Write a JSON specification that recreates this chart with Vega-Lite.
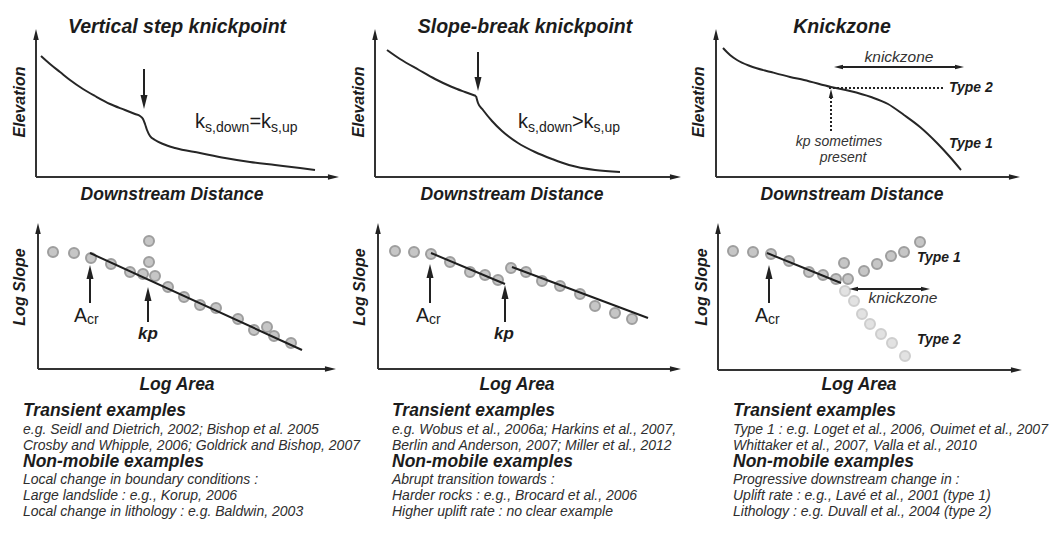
{
  "$schema": "https://vega.github.io/schema/vega-lite/v6.json",
  "width": 1055,
  "height": 534,
  "autosize": {"type": "fit", "contains": "padding"},
  "padding": 0,
  "background": "white",
  "config": {"view": {"stroke": null}},
  "datasets": {
    "curves": [
      {"id": "c1", "o": 1, "x": 41, "y": 56}, {"id": "c1", "o": 2, "x": 50, "y": 64}, {"id": "c1", "o": 3, "x": 60, "y": 72}, {"id": "c1", "o": 4, "x": 70, "y": 80}, {"id": "c1", "o": 5, "x": 83, "y": 89}, {"id": "c1", "o": 6, "x": 95, "y": 96}, {"id": "c1", "o": 7, "x": 110, "y": 104}, {"id": "c1", "o": 8, "x": 125, "y": 110}, {"id": "c1", "o": 9, "x": 135, "y": 114}, {"id": "c1", "o": 10, "x": 140, "y": 116}, {"id": "c1", "o": 11, "x": 143, "y": 119}, {"id": "c1", "o": 12, "x": 145, "y": 124}, {"id": "c1", "o": 13, "x": 147, "y": 130}, {"id": "c1", "o": 14, "x": 150, "y": 136}, {"id": "c1", "o": 15, "x": 155, "y": 140}, {"id": "c1", "o": 16, "x": 163, "y": 144}, {"id": "c1", "o": 17, "x": 175, "y": 148}, {"id": "c1", "o": 18, "x": 200, "y": 153}, {"id": "c1", "o": 19, "x": 225, "y": 158}, {"id": "c1", "o": 20, "x": 250, "y": 162}, {"id": "c1", "o": 21, "x": 275, "y": 165}, {"id": "c1", "o": 22, "x": 300, "y": 168}, {"id": "c1", "o": 23, "x": 315, "y": 170},
      {"id": "c2a", "o": 1, "x": 387, "y": 50}, {"id": "c2a", "o": 2, "x": 400, "y": 59}, {"id": "c2a", "o": 3, "x": 419, "y": 70}, {"id": "c2a", "o": 4, "x": 435, "y": 79}, {"id": "c2a", "o": 5, "x": 452, "y": 87}, {"id": "c2a", "o": 6, "x": 465, "y": 92}, {"id": "c2a", "o": 7, "x": 476, "y": 96},
      {"id": "c2b", "o": 1, "x": 476, "y": 96}, {"id": "c2b", "o": 2, "x": 478, "y": 103}, {"id": "c2b", "o": 3, "x": 483, "y": 110}, {"id": "c2b", "o": 4, "x": 492, "y": 121}, {"id": "c2b", "o": 5, "x": 502, "y": 131}, {"id": "c2b", "o": 6, "x": 518, "y": 143}, {"id": "c2b", "o": 7, "x": 535, "y": 152}, {"id": "c2b", "o": 8, "x": 552, "y": 159}, {"id": "c2b", "o": 9, "x": 569, "y": 165}, {"id": "c2b", "o": 10, "x": 595, "y": 170}, {"id": "c2b", "o": 11, "x": 620, "y": 172},
      {"id": "c3", "o": 1, "x": 723, "y": 48}, {"id": "c3", "o": 2, "x": 730, "y": 55}, {"id": "c3", "o": 3, "x": 737, "y": 60}, {"id": "c3", "o": 4, "x": 750, "y": 66}, {"id": "c3", "o": 5, "x": 771, "y": 72}, {"id": "c3", "o": 6, "x": 790, "y": 77}, {"id": "c3", "o": 7, "x": 804, "y": 80}, {"id": "c3", "o": 8, "x": 831, "y": 87}, {"id": "c3", "o": 9, "x": 850, "y": 91}, {"id": "c3", "o": 10, "x": 871, "y": 97}, {"id": "c3", "o": 11, "x": 888, "y": 104}, {"id": "c3", "o": 12, "x": 904, "y": 115}, {"id": "c3", "o": 13, "x": 920, "y": 127}, {"id": "c3", "o": 14, "x": 937, "y": 143}, {"id": "c3", "o": 15, "x": 950, "y": 157}, {"id": "c3", "o": 16, "x": 961, "y": 170}
    ],
    "rules": [
      {"k": "axis", "x": 36, "y": 177, "x2": 36, "y2": 36}, {"k": "axis", "x": 36, "y": 177, "x2": 333, "y2": 177},
      {"k": "axis", "x": 375, "y": 177, "x2": 375, "y2": 36}, {"k": "axis", "x": 375, "y": 177, "x2": 675, "y2": 177},
      {"k": "axis", "x": 716, "y": 177, "x2": 716, "y2": 36}, {"k": "axis", "x": 716, "y": 177, "x2": 1014, "y2": 177},
      {"k": "axis", "x": 38, "y": 369, "x2": 38, "y2": 230}, {"k": "axis", "x": 38, "y": 369, "x2": 330, "y2": 369},
      {"k": "axis", "x": 378, "y": 369, "x2": 378, "y2": 230}, {"k": "axis", "x": 378, "y": 369, "x2": 675, "y2": 369},
      {"k": "axis", "x": 718, "y": 370, "x2": 718, "y2": 230}, {"k": "axis", "x": 718, "y": 370, "x2": 1016, "y2": 370},
      {"k": "arrow", "x": 144, "y": 69, "x2": 144, "y2": 102},
      {"k": "arrow", "x": 478, "y": 52, "x2": 478, "y2": 84},
      {"k": "arrow", "x": 838, "y": 67, "x2": 960, "y2": 67},
      {"k": "arrow", "x": 90, "y": 303, "x2": 90, "y2": 272},
      {"k": "arrow", "x": 148, "y": 322, "x2": 148, "y2": 293},
      {"k": "arrow", "x": 430, "y": 303, "x2": 430, "y2": 271},
      {"k": "arrow", "x": 505, "y": 322, "x2": 505, "y2": 291},
      {"k": "arrow", "x": 769, "y": 303, "x2": 769, "y2": 272},
      {"k": "arrow", "x": 853, "y": 289, "x2": 926, "y2": 289},
      {"k": "dot", "x": 831, "y": 131, "x2": 831, "y2": 95},
      {"k": "dot", "x": 829, "y": 88, "x2": 943, "y2": 88},
      {"k": "fit", "x": 90, "y": 253, "x2": 302, "y2": 350},
      {"k": "fit", "x": 431, "y": 253, "x2": 505, "y2": 284},
      {"k": "fit", "x": 512, "y": 267, "x2": 648, "y2": 318},
      {"k": "fit", "x": 767, "y": 253, "x2": 841, "y2": 283}
    ],
    "heads": [
      {"hk": "axis", "dir": "up", "x": 36, "y": 29}, {"hk": "axis", "dir": "right", "x": 339, "y": 177},
      {"hk": "axis", "dir": "up", "x": 375, "y": 29}, {"hk": "axis", "dir": "right", "x": 681, "y": 177},
      {"hk": "axis", "dir": "up", "x": 716, "y": 29}, {"hk": "axis", "dir": "right", "x": 1020, "y": 177},
      {"hk": "axis", "dir": "up", "x": 38, "y": 223}, {"hk": "axis", "dir": "right", "x": 336, "y": 369},
      {"hk": "axis", "dir": "up", "x": 378, "y": 223}, {"hk": "axis", "dir": "right", "x": 681, "y": 369},
      {"hk": "axis", "dir": "up", "x": 718, "y": 223}, {"hk": "axis", "dir": "right", "x": 1022, "y": 370},
      {"hk": "arrow", "dir": "down", "x": 144, "y": 109},
      {"hk": "arrow", "dir": "down", "x": 478, "y": 91},
      {"hk": "small", "dir": "left", "x": 834, "y": 67}, {"hk": "small", "dir": "right", "x": 964, "y": 67},
      {"hk": "small", "dir": "up", "x": 831, "y": 89},
      {"hk": "arrow", "dir": "up", "x": 90, "y": 265},
      {"hk": "arrow", "dir": "up", "x": 148, "y": 287},
      {"hk": "arrow", "dir": "up", "x": 430, "y": 264},
      {"hk": "arrow", "dir": "up", "x": 505, "y": 285},
      {"hk": "arrow", "dir": "up", "x": 769, "y": 265},
      {"hk": "small", "dir": "left", "x": 849, "y": 289}, {"hk": "small", "dir": "right", "x": 930, "y": 289}
    ],
    "pts": [
      {"g": "a", "x": 53, "y": 252}, {"g": "a", "x": 74, "y": 253}, {"g": "a", "x": 91, "y": 258}, {"g": "a", "x": 111, "y": 264}, {"g": "a", "x": 130, "y": 272}, {"g": "a", "x": 143, "y": 274}, {"g": "a", "x": 149, "y": 241}, {"g": "a", "x": 149, "y": 262}, {"g": "a", "x": 155, "y": 276}, {"g": "a", "x": 168, "y": 287}, {"g": "a", "x": 184, "y": 297}, {"g": "a", "x": 200, "y": 305}, {"g": "a", "x": 216, "y": 308}, {"g": "a", "x": 238, "y": 319}, {"g": "a", "x": 254, "y": 330}, {"g": "a", "x": 267, "y": 327}, {"g": "a", "x": 274, "y": 336}, {"g": "a", "x": 291, "y": 343},
      {"g": "a", "x": 395, "y": 251}, {"g": "a", "x": 414, "y": 252}, {"g": "a", "x": 431, "y": 254}, {"g": "a", "x": 450, "y": 262}, {"g": "a", "x": 470, "y": 272}, {"g": "a", "x": 485, "y": 275}, {"g": "a", "x": 498, "y": 280}, {"g": "a", "x": 511, "y": 268}, {"g": "a", "x": 526, "y": 272}, {"g": "a", "x": 542, "y": 281}, {"g": "a", "x": 560, "y": 286}, {"g": "a", "x": 580, "y": 294}, {"g": "a", "x": 595, "y": 306}, {"g": "a", "x": 615, "y": 313}, {"g": "a", "x": 632, "y": 319},
      {"g": "a", "x": 733, "y": 251}, {"g": "a", "x": 753, "y": 252}, {"g": "a", "x": 771, "y": 254}, {"g": "a", "x": 789, "y": 261}, {"g": "a", "x": 809, "y": 272}, {"g": "a", "x": 823, "y": 275}, {"g": "a", "x": 836, "y": 279}, {"g": "a", "x": 844, "y": 263}, {"g": "a", "x": 848, "y": 279}, {"g": "a", "x": 864, "y": 271}, {"g": "a", "x": 877, "y": 264}, {"g": "a", "x": 891, "y": 256}, {"g": "a", "x": 904, "y": 252}, {"g": "a", "x": 920, "y": 242},
      {"g": "b", "x": 845, "y": 291}, {"g": "b", "x": 854, "y": 301}, {"g": "b", "x": 862, "y": 314}, {"g": "b", "x": 870, "y": 324}, {"g": "b", "x": 881, "y": 334}, {"g": "b", "x": 892, "y": 343}, {"g": "b", "x": 905, "y": 356}
    ],
    "txt": [
      {"s": "title", "x": 177, "y": 33, "t": "Vertical step knickpoint"},
      {"s": "title", "x": 525, "y": 33, "t": "Slope-break knickpoint"},
      {"s": "title", "x": 842, "y": 33, "t": "Knickzone"},
      {"s": "hlab", "x": 172, "y": 200, "t": "Downstream Distance"},
      {"s": "hlab", "x": 512, "y": 200, "t": "Downstream Distance"},
      {"s": "hlab", "x": 852, "y": 200, "t": "Downstream Distance"},
      {"s": "hlab", "x": 177, "y": 390, "t": "Log Area"},
      {"s": "hlab", "x": 517, "y": 390, "t": "Log Area"},
      {"s": "hlab", "x": 859, "y": 390, "t": "Log Area"},
      {"s": "vlab", "x": 25, "y": 102, "t": "Elevation"},
      {"s": "vlab", "x": 364, "y": 102, "t": "Elevation"},
      {"s": "vlab", "x": 704, "y": 102, "t": "Elevation"},
      {"s": "vlab", "x": 25, "y": 287, "t": "Log Slope"},
      {"s": "vlab", "x": 365, "y": 287, "t": "Log Slope"},
      {"s": "vlab", "x": 707, "y": 287, "t": "Log Slope"},
      {"s": "kz", "x": 899, "y": 62, "t": "knickzone"},
      {"s": "kz", "x": 903, "y": 303, "t": "knickzone"},
      {"s": "note", "x": 839, "y": 146, "t": "kp sometimes"},
      {"s": "note", "x": 843, "y": 162, "t": "present"},
      {"s": "type", "x": 949, "y": 92, "t": "Type 2"},
      {"s": "type", "x": 949, "y": 148, "t": "Type 1"},
      {"s": "type", "x": 917, "y": 262, "t": "Type 1"},
      {"s": "type", "x": 917, "y": 344, "t": "Type 2"},
      {"s": "kbig", "x": 195, "y": 128, "t": "k"},
      {"s": "kbig", "x": 249.5, "y": 128, "t": "="},
      {"s": "kbig", "x": 261, "y": 128, "t": "k"},
      {"s": "ksub", "x": 205, "y": 132, "t": "s,down"},
      {"s": "ksub", "x": 271, "y": 132, "t": "s,up"},
      {"s": "kbig", "x": 518, "y": 128, "t": "k"},
      {"s": "kbig", "x": 572, "y": 128, "t": ">"},
      {"s": "kbig", "x": 583.5, "y": 128, "t": "k"},
      {"s": "ksub", "x": 528, "y": 132, "t": "s,down"},
      {"s": "ksub", "x": 593.5, "y": 132, "t": "s,up"},
      {"s": "abig", "x": 74, "y": 322, "t": "A"},
      {"s": "abig", "x": 416, "y": 322, "t": "A"},
      {"s": "abig", "x": 755, "y": 322, "t": "A"},
      {"s": "asub", "x": 87, "y": 324, "t": "cr"},
      {"s": "asub", "x": 429, "y": 324, "t": "cr"},
      {"s": "asub", "x": 768, "y": 324, "t": "cr"},
      {"s": "kp", "x": 148, "y": 339, "t": "kp"},
      {"s": "kp", "x": 504, "y": 339, "t": "kp"},
      {"s": "head", "x": 23, "y": 416, "t": "Transient examples"},
      {"s": "line", "x": 23, "y": 434, "t": "e.g. Seidl and Dietrich, 2002; Bishop et al. 2005"},
      {"s": "line", "x": 23, "y": 450, "t": "Crosby and Whipple, 2006; Goldrick and Bishop, 2007"},
      {"s": "head", "x": 23, "y": 467, "t": "Non-mobile examples"},
      {"s": "line", "x": 23, "y": 484, "t": "Local change in boundary conditions :"},
      {"s": "line", "x": 23, "y": 500, "t": "Large landslide : e.g., Korup, 2006"},
      {"s": "line", "x": 23, "y": 516, "t": "Local change in lithology : e.g. Baldwin, 2003"},
      {"s": "head", "x": 392, "y": 416, "t": "Transient examples"},
      {"s": "line", "x": 392, "y": 434, "t": "e.g. Wobus et al., 2006a; Harkins et al., 2007,"},
      {"s": "line", "x": 392, "y": 450, "t": "Berlin and Anderson, 2007; Miller et al., 2012"},
      {"s": "head", "x": 392, "y": 467, "t": "Non-mobile examples"},
      {"s": "line", "x": 392, "y": 484, "t": "Abrupt transition towards :"},
      {"s": "line", "x": 392, "y": 500, "t": "Harder rocks : e.g., Brocard et al., 2006"},
      {"s": "line", "x": 392, "y": 516, "t": "Higher uplift rate : no clear example"},
      {"s": "head", "x": 733, "y": 416, "t": "Transient examples"},
      {"s": "line", "x": 733, "y": 434, "t": "Type 1 : e.g. Loget et al., 2006, Ouimet et al., 2007"},
      {"s": "line", "x": 733, "y": 450, "t": "Whittaker et al., 2007, Valla et al., 2010"},
      {"s": "head", "x": 733, "y": 467, "t": "Non-mobile examples"},
      {"s": "line", "x": 733, "y": 484, "t": "Progressive downstream change in :"},
      {"s": "line", "x": 733, "y": 500, "t": "Uplift rate : e.g., Lavé et al., 2001 (type 1)"},
      {"s": "line", "x": 733, "y": 516, "t": "Lithology : e.g. Duvall et al., 2004 (type 2)"}
    ]
  },
  "encoding": {
    "x": {"field": "x", "type": "quantitative", "scale": {"domain": [0, 1055], "nice": false, "zero": false}, "axis": null},
    "y": {"field": "y", "type": "quantitative", "scale": {"domain": [0, 534], "nice": false, "zero": false, "reverse": true}, "axis": null}
  },
  "layer": [
    {
      "data": {"name": "pts"},
      "mark": {"type": "point", "shape": "circle", "filled": true, "size": 100, "fill": "#c6c6c6", "stroke": "#9e9e9e", "strokeWidth": 2},
      "encoding": {
        "opacity": {"field": "g", "type": "nominal", "scale": {"domain": ["a", "b"], "range": [1, 0.5]}, "legend": null}
      }
    },
    {
      "data": {"name": "curves"},
      "mark": {"type": "line", "interpolate": "monotone", "stroke": "#262626", "strokeWidth": 2},
      "encoding": {
        "detail": {"field": "id", "type": "nominal"},
        "order": {"field": "o", "type": "quantitative"}
      }
    },
    {
      "data": {"name": "rules"},
      "transform": [{"filter": "datum.k == 'axis'"}],
      "mark": {"type": "rule", "stroke": "#333333", "strokeWidth": 2},
      "encoding": {"x2": {"field": "x2"}, "y2": {"field": "y2"}}
    },
    {
      "data": {"name": "rules"},
      "transform": [{"filter": "datum.k == 'arrow'"}],
      "mark": {"type": "rule", "stroke": "#222222", "strokeWidth": 2},
      "encoding": {"x2": {"field": "x2"}, "y2": {"field": "y2"}}
    },
    {
      "data": {"name": "rules"},
      "transform": [{"filter": "datum.k == 'dot'"}],
      "mark": {"type": "rule", "stroke": "#222222", "strokeWidth": 2, "strokeDash": [2, 2]},
      "encoding": {"x2": {"field": "x2"}, "y2": {"field": "y2"}}
    },
    {
      "data": {"name": "rules"},
      "transform": [{"filter": "datum.k == 'fit'"}],
      "mark": {"type": "rule", "stroke": "#1e1e1e", "strokeWidth": 2},
      "encoding": {"x2": {"field": "x2"}, "y2": {"field": "y2"}}
    },
    {
      "data": {"name": "heads"},
      "mark": {"type": "point", "shape": "M0,0L0.6,2.4L-0.6,2.4Z", "filled": true, "fill": "#222222", "strokeWidth": 0, "opacity": 1},
      "encoding": {
        "angle": {"field": "dir", "type": "nominal", "scale": {"type": "ordinal", "domain": ["up", "right", "down", "left"], "range": [0, 90, 180, 270]}, "legend": null},
        "size": {"field": "hk", "type": "nominal", "scale": {"type": "ordinal", "domain": ["axis", "arrow", "small"], "range": [85, 136, 56]}, "legend": null}
      }
    },
    {
      "data": {"name": "txt"},
      "transform": [{"filter": "datum.s == 'title'"}],
      "mark": {"type": "text", "font": "Liberation Sans", "fontSize": 19.5, "fontWeight": "bold", "fontStyle": "italic", "align": "center", "baseline": "alphabetic", "fill": "#1c1c1c"},
      "encoding": {"text": {"field": "t"}}
    },
    {
      "data": {"name": "txt"},
      "transform": [{"filter": "datum.s == 'hlab'"}],
      "mark": {"type": "text", "font": "Liberation Sans", "fontSize": 17.5, "fontWeight": "bold", "fontStyle": "italic", "align": "center", "baseline": "alphabetic", "fill": "#1c1c1c"},
      "encoding": {"text": {"field": "t"}}
    },
    {
      "data": {"name": "txt"},
      "transform": [{"filter": "datum.s == 'vlab'"}],
      "mark": {"type": "text", "font": "Liberation Sans", "fontSize": 16, "fontWeight": "bold", "fontStyle": "italic", "align": "center", "baseline": "alphabetic", "angle": 270, "fill": "#1c1c1c"},
      "encoding": {"text": {"field": "t"}}
    },
    {
      "data": {"name": "txt"},
      "transform": [{"filter": "datum.s == 'kz'"}],
      "mark": {"type": "text", "font": "Liberation Sans", "fontSize": 15.5, "fontStyle": "italic", "align": "center", "baseline": "alphabetic", "fill": "#333333"},
      "encoding": {"text": {"field": "t"}}
    },
    {
      "data": {"name": "txt"},
      "transform": [{"filter": "datum.s == 'note'"}],
      "mark": {"type": "text", "font": "Liberation Sans", "fontSize": 14, "fontStyle": "italic", "align": "center", "baseline": "alphabetic", "fill": "#333333"},
      "encoding": {"text": {"field": "t"}}
    },
    {
      "data": {"name": "txt"},
      "transform": [{"filter": "datum.s == 'type'"}],
      "mark": {"type": "text", "font": "Liberation Sans", "fontSize": 14, "fontWeight": "bold", "fontStyle": "italic", "align": "left", "baseline": "alphabetic", "fill": "#1c1c1c"},
      "encoding": {"text": {"field": "t"}}
    },
    {
      "data": {"name": "txt"},
      "transform": [{"filter": "datum.s == 'kbig'"}],
      "mark": {"type": "text", "font": "Liberation Sans", "fontSize": 20, "align": "left", "baseline": "alphabetic", "fill": "#1c1c1c"},
      "encoding": {"text": {"field": "t"}}
    },
    {
      "data": {"name": "txt"},
      "transform": [{"filter": "datum.s == 'ksub'"}],
      "mark": {"type": "text", "font": "Liberation Sans", "fontSize": 14, "align": "left", "baseline": "alphabetic", "fill": "#1c1c1c"},
      "encoding": {"text": {"field": "t"}}
    },
    {
      "data": {"name": "txt"},
      "transform": [{"filter": "datum.s == 'abig'"}],
      "mark": {"type": "text", "font": "Liberation Sans", "fontSize": 19.5, "align": "left", "baseline": "alphabetic", "fill": "#1c1c1c"},
      "encoding": {"text": {"field": "t"}}
    },
    {
      "data": {"name": "txt"},
      "transform": [{"filter": "datum.s == 'asub'"}],
      "mark": {"type": "text", "font": "Liberation Sans", "fontSize": 14, "align": "left", "baseline": "alphabetic", "fill": "#1c1c1c"},
      "encoding": {"text": {"field": "t"}}
    },
    {
      "data": {"name": "txt"},
      "transform": [{"filter": "datum.s == 'kp'"}],
      "mark": {"type": "text", "font": "Liberation Sans", "fontSize": 17, "fontWeight": "bold", "fontStyle": "italic", "align": "center", "baseline": "alphabetic", "fill": "#1c1c1c"},
      "encoding": {"text": {"field": "t"}}
    },
    {
      "data": {"name": "txt"},
      "transform": [{"filter": "datum.s == 'head'"}],
      "mark": {"type": "text", "font": "Liberation Sans", "fontSize": 17.5, "fontWeight": "bold", "fontStyle": "italic", "align": "left", "baseline": "alphabetic", "fill": "#1c1c1c"},
      "encoding": {"text": {"field": "t"}}
    },
    {
      "data": {"name": "txt"},
      "transform": [{"filter": "datum.s == 'line'"}],
      "mark": {"type": "text", "font": "Liberation Sans", "fontSize": 14, "fontStyle": "italic", "align": "left", "baseline": "alphabetic", "fill": "#2e2e2e"},
      "encoding": {"text": {"field": "t"}}
    }
  ]
}
